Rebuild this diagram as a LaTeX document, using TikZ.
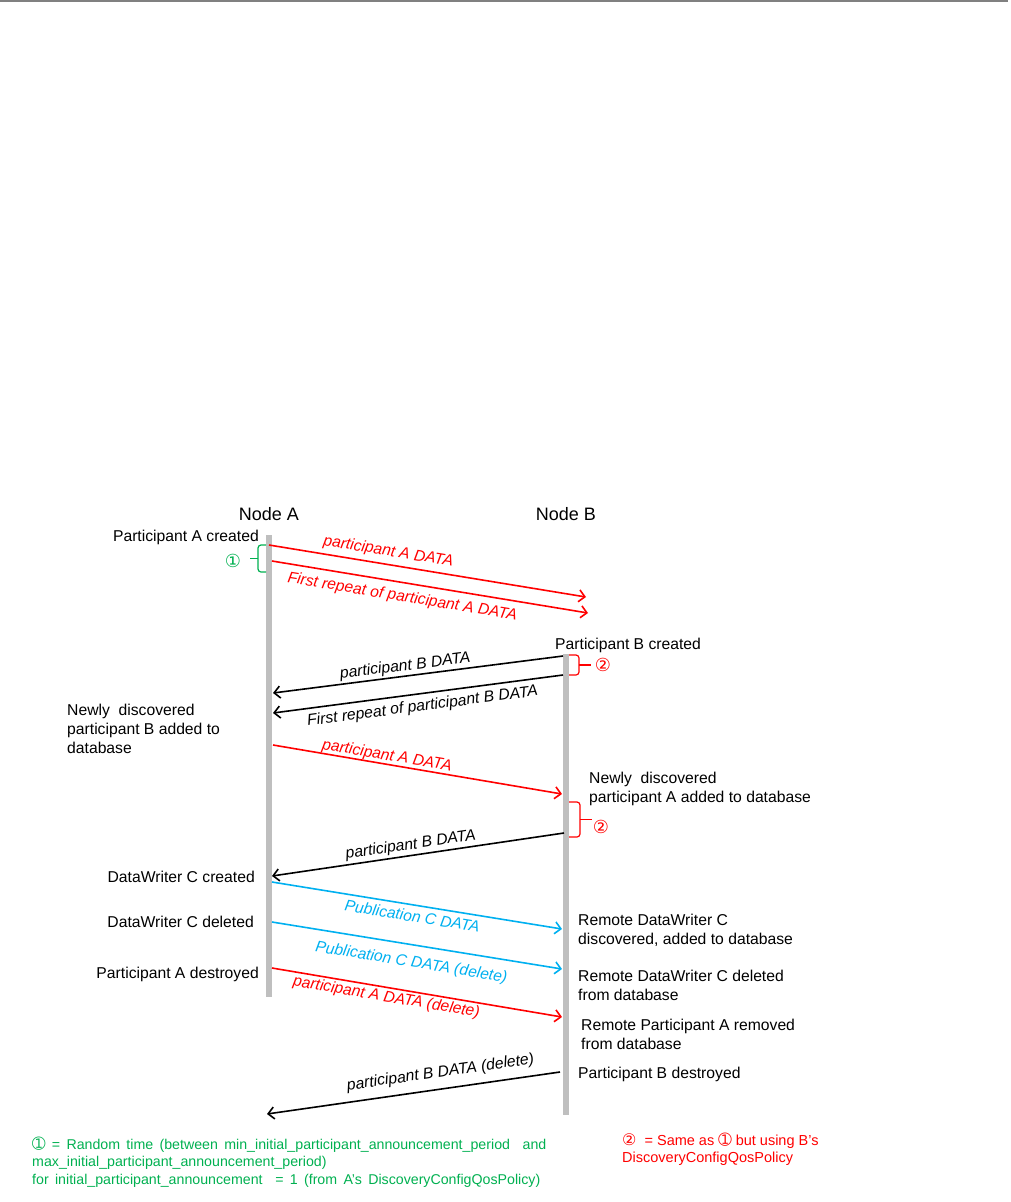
\documentclass[tikz,border=0pt]{standalone}
\usepackage{fontspec}
\setmainfont{Liberation Sans}
\newfontfamily\symfont{DejaVu Sans}
\newfontfamily\legendfont[WordSpace=1.6]{Liberation Sans}
\usetikzlibrary{arrows.meta}
\definecolor{ared}{RGB}{255,0,0}
\definecolor{ablue}{RGB}{0,176,240}
\definecolor{agreen}{RGB}{0,176,80}
\definecolor{lifegray}{RGB}{191,191,191}
\definecolor{rulegray}{RGB}{128,128,128}
\begin{document}
\begin{tikzpicture}[x=1pt,y=-1pt,
  msg/.style={line width=1.6pt,-{Straight Barb[length=6pt,width=12pt,line width=1.6pt]}},
  lbl/.style={font=\fontsize{15.7}{18}\selectfont\itshape, sloped, inner sep=1.5pt},
  txt/.style={font=\fontsize{15.7}{18.5}\selectfont, inner sep=0pt, align=left},
  legtxt/.style={font=\legendfont\fontsize{14.2}{17.5}\selectfont, inner sep=0pt, align=left},
  head/.style={font=\fontsize{18}{20}\selectfont, inner sep=0pt},
  life/.style={line width=6pt, lifegray},
  brc/.style={line width=1.2pt, rounded corners=3pt},
  circ/.style={font=\symfont\fontsize{18}{18}\selectfont, inner sep=0pt}
]
\useasboundingbox (0,0) rectangle (1010,1202);
\draw[rulegray, line width=2pt] (0,1) -- (1008,1);

% heads and lifelines
\node[head, anchor=base] (hA) at (269,520) {Node A};
\node[head, anchor=base] (hB) at (566,520) {Node B};
\coordinate (Atop) at (269,535); \coordinate (Abot) at (269,997);
\coordinate (Btop) at (566,654); \coordinate (Bbot) at (566,1115);
\draw[life] (Atop) -- (Abot);
\draw[life] (Btop) -- (Bbot);

% message end points
\coordinate (m1s) at (269,545);  \coordinate (m1e) at (586,597);
\coordinate (m2s) at (272,561);  \coordinate (m2e) at (588,613);
\coordinate (m3s) at (563,656);  \coordinate (m3e) at (273,693);
\coordinate (m4s) at (563,675);  \coordinate (m4e) at (273,713);
\coordinate (m5s) at (273,745);  \coordinate (m5e) at (562,794);
\coordinate (m6s) at (564,833);  \coordinate (m6e) at (272,876);
\coordinate (m7s) at (272,882);  \coordinate (m7e) at (562,929);
\coordinate (m8s) at (272,922);  \coordinate (m8e) at (562,969);
\coordinate (m9s) at (272,968);  \coordinate (m9e) at (562,1017);
\coordinate (m10s) at (560,1072); \coordinate (m10e) at (267,1114);

\draw[msg, ared] (m1s) -- node[lbl, pos=0.37, above, inner sep=4.5pt, text=ared] {participant A DATA} (m1e);
\draw[msg, ared] (m2s) -- node[lbl, pos=0.42, below, inner sep=6.5pt, text=ared] {First repeat of participant A DATA} (m2e);
\draw[msg, black] (m3s) -- node[lbl, pos=0.54, above, inner sep=1.5pt] {participant B DATA} (m3e);
\draw[msg, black] (m4s) -- node[lbl, pos=0.49, below, inner sep=5pt] {First repeat of participant B DATA} (m4e);
\draw[msg, ared] (m5s) -- node[lbl, pos=0.39, above, inner sep=0pt, text=ared] {participant A DATA} (m5e);
\draw[msg, black] (m6s) -- node[lbl, pos=0.52, above, inner sep=2pt] {participant B DATA} (m6e);
\draw[msg, ablue] (m7s) -- node[lbl, pos=0.49, below, inner sep=4.5pt, text=ablue] {Publication C DATA} (m7e);
\draw[msg, ablue] (m8s) -- node[lbl, pos=0.49, below, inner sep=10pt, text=ablue] {Publication C DATA (delete)} (m8e);
\draw[msg, ared] (m9s) -- node[lbl, pos=0.40, below, inner sep=2pt, text=ared] {participant A DATA (delete)} (m9e);
\draw[msg, black] (m10s) -- node[lbl, pos=0.40, above, inner sep=8pt] {participant B DATA (delete)} (m10e);

% braces
\draw[brc, agreen] (266,545) -- (258,545) -- (258,572) -- (266,572);
\draw[agreen, line width=1.2pt] (258,558.5) -- (250,558.5);
\node[circ, text=agreen] (c1) at (233,561) {①};
\draw[brc, ared] (569,655) -- (579,655) -- (579,675) -- (569,675);
\draw[ared, line width=1.2pt] (579,665) -- (591,665);
\node[circ, text=ared] (c2) at (603,665) {②};
\draw[brc, ared] (569,802) -- (580,802) -- (580,837) -- (569,837);
\draw[ared, line width=1.2pt] (580,819.5) -- (592,819.5);
\node[circ, text=ared] (c3) at (601,827) {②};

% event texts (base = baseline of last line)
\node[txt, anchor=base east] (tAc) at (259,541) {Participant A created};
\node[txt, anchor=base west] (tBc) at (555,649) {Participant B created};
\node[txt, anchor=base west, font=\fontsize{15.7}{19}\selectfont] (tBadd) at (67,753) {Newly\ \ discovered\\participant B added to\\database};
\node[txt, anchor=base west, font=\fontsize{15.7}{19}\selectfont] (tAadd) at (589,802) {Newly\ \ discovered\\participant A added to database};
\node[txt, anchor=base east] (tCc) at (255,882) {DataWriter C created};
\node[txt, anchor=base east] (tCd) at (254,927) {DataWriter C deleted};
\node[txt, anchor=base east] (tAd) at (259,978) {Participant A destroyed};
\node[txt, anchor=base west] (tCdisc) at (578,944) {Remote DataWriter C\\discovered, added to database};
\node[txt, anchor=base west] (tCdel) at (578,1000) {Remote DataWriter C deleted\\from database};
\node[txt, anchor=base west] (tArem) at (581,1049) {Remote Participant A removed\\from database};
\node[txt, anchor=base west] (tBd) at (578,1078) {Participant B destroyed};

% legends
\node[legtxt, text=agreen, anchor=base west] (leg1) at (32,1184) {{\symfont\fontsize{16}{16}\selectfont ➀} = Random time (between min\_initial\_participant\_announcement\_period\ \ and\\max\_initial\_participant\_announcement\_period)\\for initial\_participant\_announcement\ \ = 1 (from A’s DiscoveryConfigQosPolicy)};
\node[txt, text=ared, anchor=base west, font=\fontsize{14.5}{17}\selectfont] (leg2) at (622,1162) {{\symfont\fontsize{16}{16}\selectfont ②}\ \ = Same as {\symfont\fontsize{16}{16}\selectfont ➀} but using B’s\\DiscoveryConfigQosPolicy};
\end{tikzpicture}
\end{document}
